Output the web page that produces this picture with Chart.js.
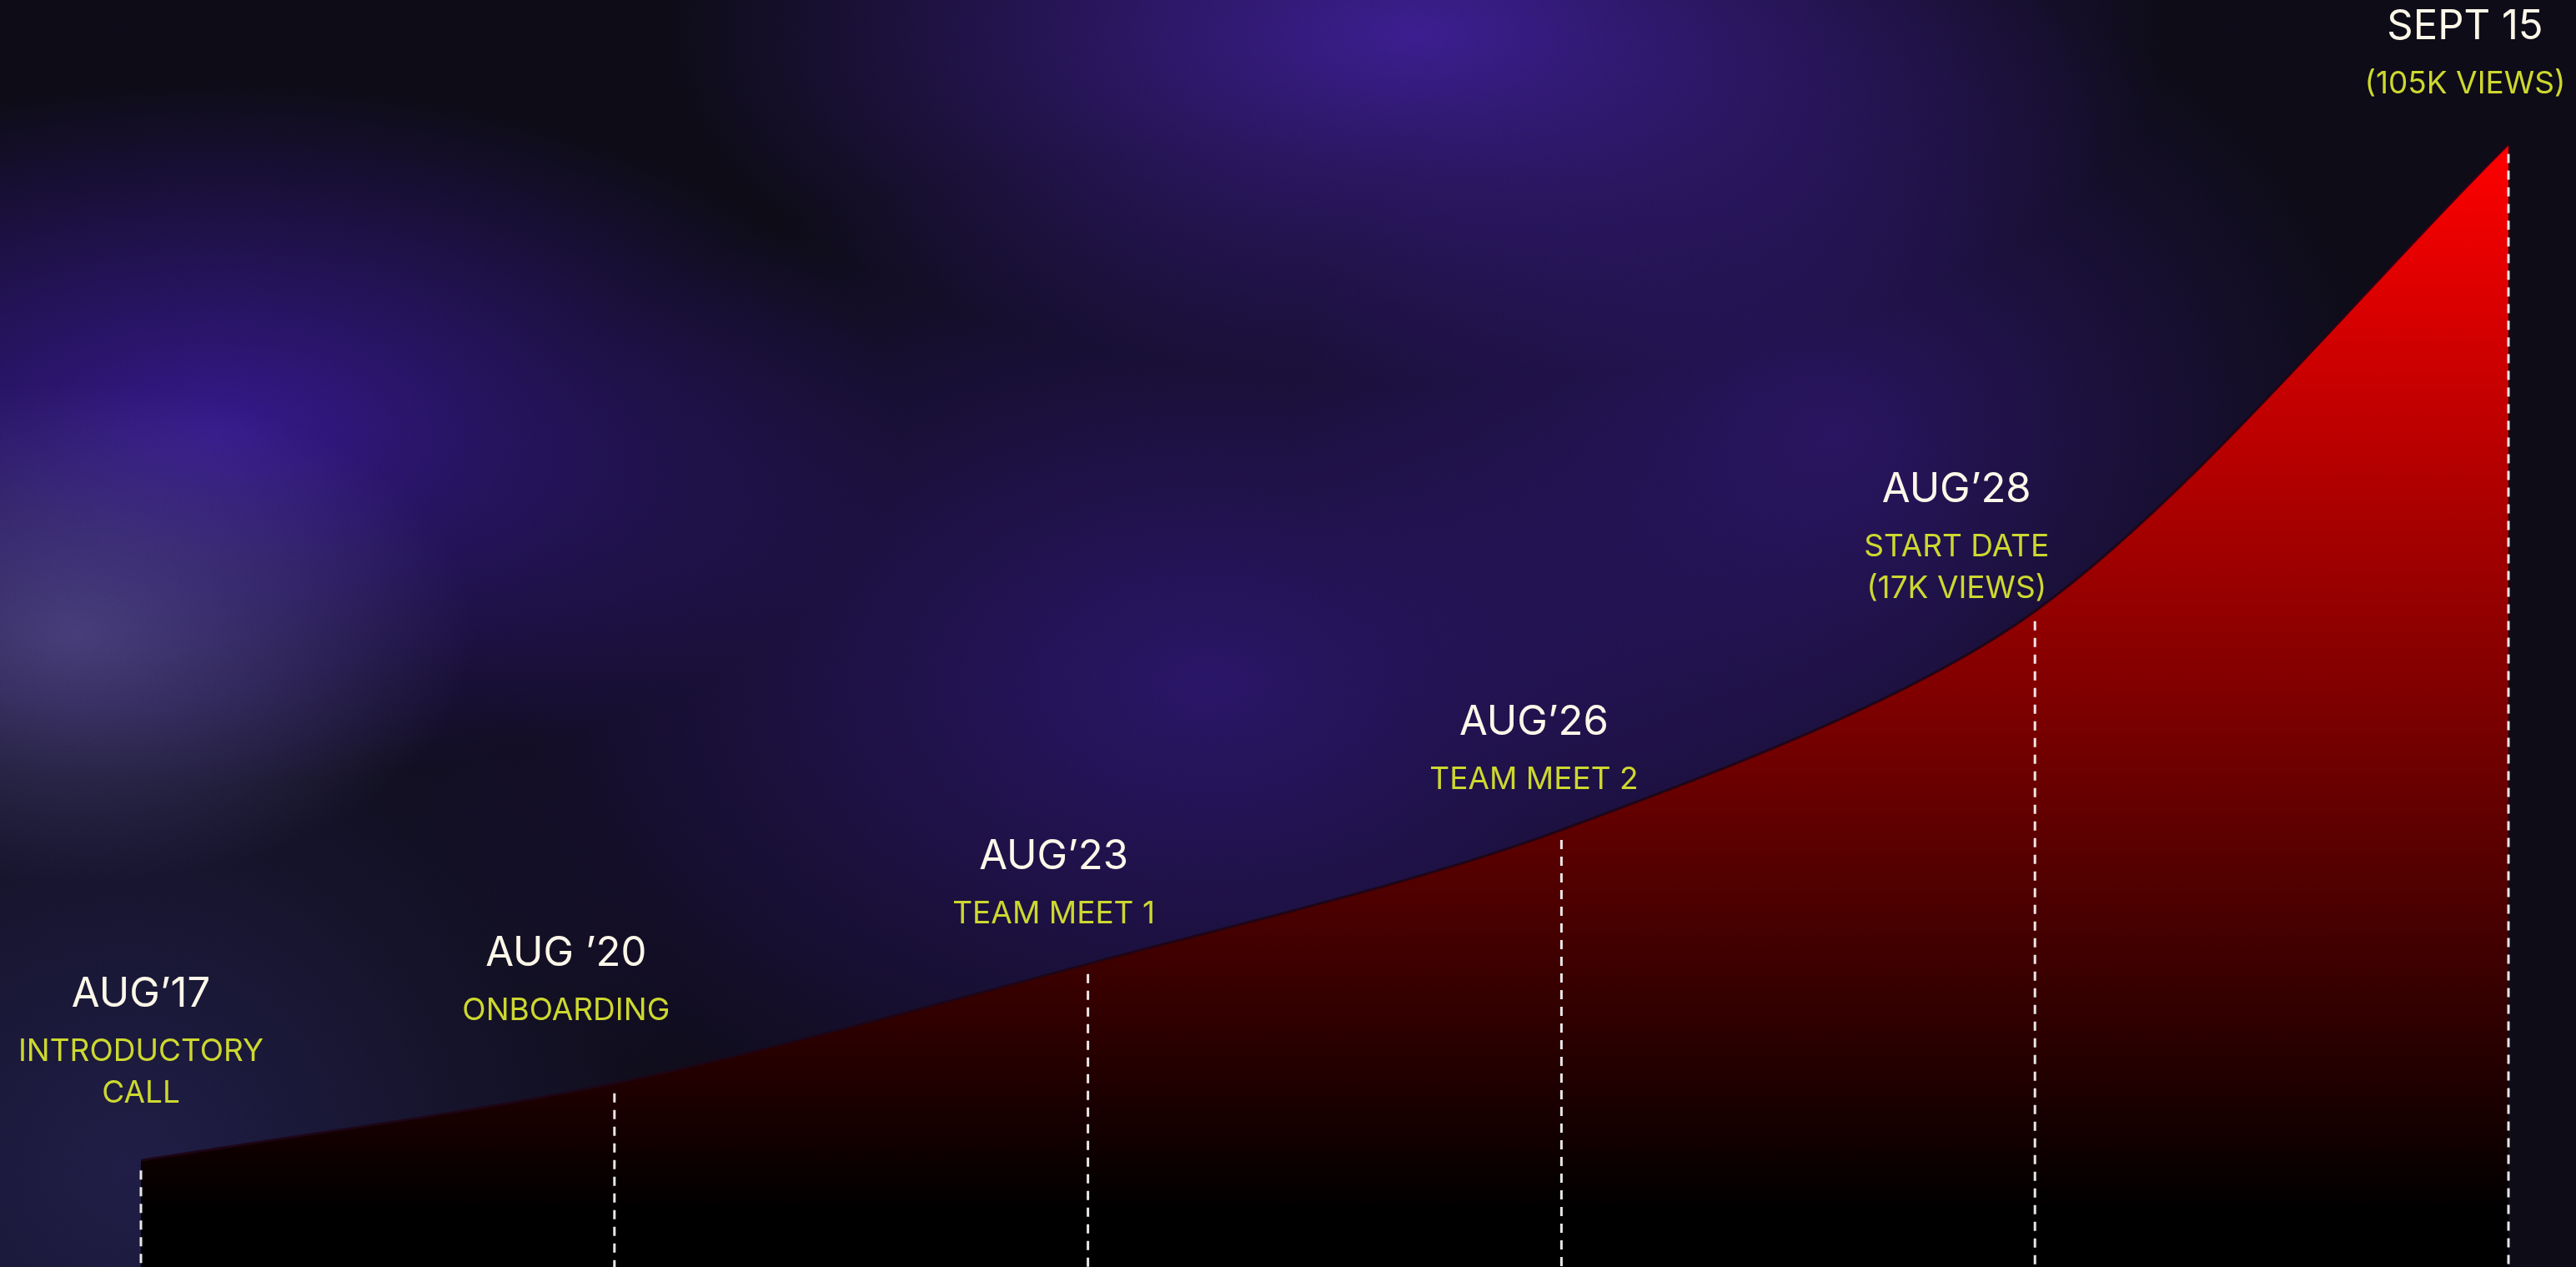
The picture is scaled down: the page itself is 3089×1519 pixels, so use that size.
<!DOCTYPE html>
<html>
<head>
<meta charset="utf-8">
<script src="https://cdn.jsdelivr.net/npm/chart.js@4.4.1/dist/chart.umd.min.js"></script>
<style>
  html, body {
    margin: 0;
    padding: 0;
    width: 100%;
    height: 100%;
    overflow: hidden;
  }
  body {
    background-color: #0d0b16;
    background-image:
      radial-gradient(ellipse 480px 300px at 90px 760px, rgba(84, 76, 136, 0.7), rgba(84, 76, 136, 0) 100%),
      radial-gradient(ellipse 820px 420px at 260px 520px, rgba(52, 24, 140, 0.95), rgba(52, 24, 140, 0) 100%),
      radial-gradient(ellipse 900px 420px at 1700px 40px, rgba(62, 30, 150, 0.9), rgba(62, 30, 150, 0) 100%),
      radial-gradient(ellipse 1000px 640px at 1450px 820px, rgba(44, 22, 112, 0.85), rgba(44, 22, 112, 0) 100%),
      radial-gradient(ellipse 650px 560px at 2200px 520px, rgba(44, 22, 108, 0.8), rgba(44, 22, 108, 0) 100%),
      radial-gradient(ellipse 700px 700px at 150px 1400px, rgba(32, 30, 72, 0.9), rgba(32, 30, 72, 0) 100%);
  }
  body::before {
    content: "";
    position: absolute;
    left: 0;
    top: 0;
    width: 100%;
    height: 100%;
    opacity: 0.22;
    mix-blend-mode: overlay;
    background-image: url("data:image/svg+xml;utf8,<svg xmlns='http://www.w3.org/2000/svg' width='300' height='300'><filter id='n'><feTurbulence type='fractalNoise' baseFrequency='0.9' numOctaves='3' stitchTiles='stitch'/><feColorMatrix type='saturate' values='0'/></filter><rect width='100%25' height='100%25' filter='url(%23n)'/></svg>");
  }
  #wrap {
    position: absolute;
    left: 0;
    top: 0;
    width: 100vw;
    height: 100vh;
    z-index: 1;
  }
</style>
</head>
<body>
<div id="wrap"><canvas></canvas></div>
<script>
  //Data
  const dates = ["AUG\u201917", "AUG \u201920", "AUG\u201923", "AUG\u201926", "AUG\u201928", "SEPT 15"];
  const notes = [
    ["INTRODUCTORY", "CALL"],
    ["ONBOARDING"],
    ["TEAM MEET 1"],
    ["TEAM MEET 2"],
    ["START DATE", "(17K VIEWS)"],
    ["(105K VIEWS)"],
  ];
  const views = [2000, 2700, 4300, 7250, 17000, 105000];

  //Label layout (offsets from each point)
  const labelDx = [0, -58, -41, -33, -94, -52];
  const labelGap = [69, 76, 49, 49, 16, 61];

  //Get context for drawing
  let canvas = window.document.querySelector("canvas");
  let context = canvas.getContext("2d");

  //Red to black fill under the curve
  const areaFill = (ctx) => {
    let chart = ctx.chart;
    let area = chart.chartArea;
    if (!area) return "#800000";
    let top = chart.scales.y.getPixelForValue(Math.max(...views));
    let g = chart.ctx.createLinearGradient(0, top, 0, area.bottom);
    g.addColorStop(0, "#ff0000");
    g.addColorStop(0.5, "#7d0000");
    g.addColorStop(0.95, "#000000");
    g.addColorStop(1, "#000000");
    return g;
  };

  //Dashed drop lines and text labels
  const milestones = {
    id: "milestones",
    afterDatasetsDraw: (chart) => {
      let ctx = chart.ctx;
      let area = chart.chartArea;
      let points = chart.getDatasetMeta(0).data;

      ctx.save();
      ctx.strokeStyle = "rgba(255, 255, 255, 0.9)";
      ctx.lineWidth = 3;
      ctx.setLineDash([11, 9]);
      points.forEach((p) => {
        ctx.beginPath();
        ctx.moveTo(p.x, p.y + 12);
        ctx.lineTo(p.x, area.bottom);
        ctx.stroke();
      });
      ctx.restore();

      ctx.save();
      ctx.textAlign = "center";
      ctx.textBaseline = "alphabetic";
      points.forEach((p, i) => {
        let x = p.x + labelDx[i];
        let y = p.y - labelGap[i];
        let lines = notes[i];
        ctx.font = "400 37px Inter, 'Noto Sans', sans-serif";
        ctx.fillStyle = "#cdd82f";
        for (let k = lines.length - 1; k >= 0; k--) {
          ctx.fillText(lines[k], x, y);
          if (k > 0) y -= 50;
        }
        y -= 65;
        ctx.font = "400 49px Inter, 'Noto Sans', sans-serif";
        ctx.fillStyle = "#fcf7e8";
        ctx.fillText(dates[i], x, y);
      });
      ctx.restore();
    },
  };

  let data = {
    labels: dates,
    datasets: [
      {
        label: "Views",
        data: views,
        fill: "start",
        backgroundColor: areaFill,
        borderColor: "rgba(30, 6, 22, 0.9)",
        borderWidth: 3,
        borderJoinStyle: "round",
        tension: 0.3,
        pointRadius: 0,
        pointHoverRadius: 0,
      },
    ],
  };

  let config = {
    type: "line",
    data: data,
    plugins: [milestones],
    options: {
      responsive: true,
      maintainAspectRatio: false,
      animation: false,
      layout: {
        padding: { left: 169, right: 81, top: 0, bottom: 0 },
      },
      plugins: {
        legend: { display: false },
        tooltip: { enabled: false },
      },
      scales: {
        x: {
          display: false,
          offset: false,
        },
        y: {
          type: "logarithmic",
          display: false,
          min: 1320,
          max: 184000,
        },
      },
    },
  };
  let chart = new Chart(context, config);
</script>
</body>
</html>
